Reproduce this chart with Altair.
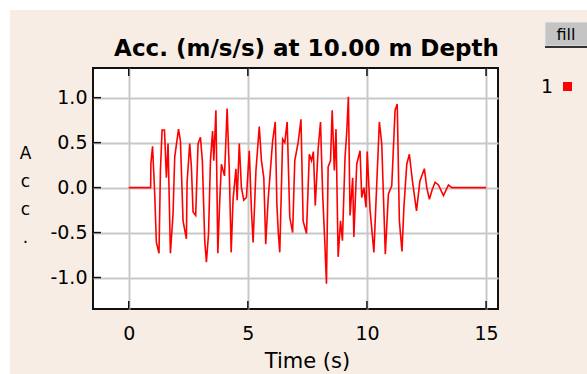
import altair as alt
import pandas as pd

# ---- data ----
time_s = [0.0, 0.92, 0.93, 1.00, 1.09, 1.16, 1.27, 1.33, 1.40, 1.50, 1.58, 1.65, 1.75, 1.86, 1.93,
          2.09, 2.17, 2.28, 2.42, 2.45, 2.56, 2.63, 2.70, 2.81, 2.91, 3.01, 3.09, 3.19, 3.26, 3.35,
          3.43, 3.52, 3.57, 3.66, 3.74, 3.82, 3.89, 4.02, 4.13, 4.22, 4.30, 4.38, 4.50, 4.55, 4.64,
          4.73, 4.83, 4.94, 5.06, 5.15, 5.22, 5.34, 5.48, 5.57, 5.67, 5.75, 5.85, 6.04, 6.15, 6.22,
          6.28, 6.34, 6.46, 6.55, 6.65, 6.76, 6.88, 6.97, 7.11, 7.23, 7.32, 7.46, 7.58, 7.67, 7.75,
          7.83, 7.95, 8.05, 8.14, 8.23, 8.30, 8.37, 8.47, 8.54, 8.63, 8.70, 8.79, 8.89, 8.97, 9.08,
          9.15, 9.22, 9.29, 9.40, 9.45, 9.57, 9.71, 9.78, 9.87, 9.96, 10.01, 10.13, 10.29, 10.41,
          10.52, 10.62, 10.77, 10.90, 11.04, 11.18, 11.27, 11.36, 11.47, 11.55, 11.67, 11.78, 11.91,
          12.08, 12.22, 12.41, 12.51, 12.62, 12.73, 12.86, 13.00, 13.21, 13.42, 13.56, 15.0]
acc = [0.0, 0.0, 0.27, 0.46, -0.07, -0.61, -0.73, 0.19, 0.64, 0.64, 0.11, 0.49, -0.73, -0.29, 0.34,
       0.65, 0.52, -0.37, -0.57, 0.06, 0.49, 0.23, -0.27, -0.31, 0.49, 0.56, 0.30, -0.59, -0.83, -0.51,
       0.30, 0.63, 0.30, 0.86, -0.73, -0.14, 0.26, 0.13, 0.88, 0.19, -0.72, -0.13, 0.21, -0.14, 0.49,
       0.0, -0.14, -0.11, 0.41, -0.25, -0.61, 0.19, 0.68, 0.30, 0.11, -0.63, -0.14, 0.52, 0.73, -0.20,
       -0.51, -0.72, 0.54, 0.50, 0.73, -0.33, -0.50, 0.30, 0.50, 0.76, -0.37, -0.51, 0.37, 0.30, 0.40,
       -0.20, 0.43, 0.73, -0.07, -0.61, -1.07, 0.23, 0.30, 0.86, 0.19, 0.65, -0.77, -0.37, -0.59, 0.34,
       0.61, 1.01, -0.31, 0.11, -0.55, 0.26, 0.41, -0.11, 0.0, -0.22, 0.40, -0.25, -0.72, 0.04,
       0.73, 0.49, -0.74, -0.07, 0.02, 0.86, 0.93, -0.37, -0.71, -0.22, 0.26, 0.37, 0.07,
       -0.26, 0.07, 0.21, 0.0, -0.13, -0.03, 0.06, 0.03, -0.09, 0.03, 0.0, 0.0]
series = ["1"] * len(time_s)
x_ticks = [0, 5, 10, 15]
y_ticks = [-1.0, -0.5, 0.0, 0.5, 1.0]
title_text = "Acc. (m/s/s) at 10.00 m Depth"
x_title = "Time (s)"
y_title = ["A", "c", "c", "."]
button_text = ["fill"]

BG = "#f8ede4"
FONT = "DejaVu Sans"
W, H = 405, 241
PL, PT, PR, PB = 93, 68, 89, 65

df = pd.DataFrame({"t": time_s, "a": acc, "s": series})
xt = pd.DataFrame({"t": x_ticks})
yt = pd.DataFrame({"a": y_ticks})
one = pd.DataFrame({"k": [0]})
btn = pd.DataFrame({"label": button_text})

xscale = alt.Scale(domain=[-1.5, 15.5], nice=False, zero=False)
yscale = alt.Scale(domain=[-1.35, 1.33], nice=False, zero=False)

x_axis = alt.Axis(values=x_ticks, title=x_title, grid=True, domain=False, ticks=False,
                  labelFont=FONT, labelFontSize=19, labelColor="black", labelPadding=15,
                  titleFont=FONT, titleFontSize=21, titleFontWeight="normal", titleColor="black",
                  titleX=214, titleY=41, titleBaseline="top", titleAlign="center",
                  gridColor="#c8c8c8", gridWidth=2)
y_axis = alt.Axis(values=y_ticks, format=".1f", labelExpr="replace(datum.label, '\u2212', '-')",
                  title=y_title, grid=True, domain=False, ticks=False,
                  labelFont=FONT, labelFontSize=19, labelColor="black", labelPadding=6,
                  titleFont=FONT, titleFontSize=17, titleFontWeight="normal", titleColor="black",
                  titleAngle=0, titleX=-68, titleY=77, titleBaseline="top", titleAlign="center",
                  titleLineHeight=28, gridColor="#c8c8c8", gridWidth=2)

# decorative white margins of the screenshot and the "fill" button
strip_left = alt.Chart(one).mark_rect(color="white", clip=False).encode(
    x=alt.value(-PL), x2=alt.value(-PL + 10), y=alt.value(-PT), y2=alt.value(H + PB))
strip_top = alt.Chart(one).mark_rect(color="white", clip=False).encode(
    x=alt.value(-PL), x2=alt.value(W + PR), y=alt.value(-PT), y2=alt.value(-PT + 10))
button = alt.Chart(one).mark_rect(color="#c4c4c4", stroke="#e8e8e8", strokeWidth=1, clip=False).encode(
    x=alt.value(452), x2=alt.value(500), y=alt.value(-46), y2=alt.value(-22))
button_edge = alt.Chart(one).mark_rule(color="#333333", strokeWidth=2, clip=False).encode(
    x=alt.value(452), x2=alt.value(500), y=alt.value(-21))
button_label = alt.Chart(btn).mark_text(font=FONT, fontSize=16, color="black", clip=False).encode(
    text="label:N", x=alt.value(473), y=alt.value(-33))

line = alt.Chart(df).mark_line(strokeWidth=1.6).encode(
    x=alt.X("t:Q", scale=xscale, axis=x_axis),
    y=alt.Y("a:Q", scale=yscale, axis=y_axis),
    color=alt.Color("s:N", scale=alt.Scale(domain=["1"], range=["#ff0000"]),
                    legend=alt.Legend(orient="none", legendX=465, legendY=9, title=None, padding=0,
                                      symbolType="square", symbolSize=81, symbolFillColor="#ff0000",
                                      symbolStrokeWidth=0, labelFont=FONT, labelFontSize=19,
                                      labelColor="black", labelAlign="right",
                                      labelOffset=alt.ExprRef("-24"))),
)

tick_style = dict(color="#111111", strokeWidth=1.5)
top_ticks = alt.Chart(xt).mark_rule(**tick_style).encode(
    x=alt.X("t:Q", scale=xscale, axis=x_axis), y=alt.value(0), y2=alt.value(8))
bot_ticks = alt.Chart(xt).mark_rule(**tick_style).encode(
    x=alt.X("t:Q", scale=xscale, axis=x_axis), y=alt.value(H - 8), y2=alt.value(H))
left_ticks = alt.Chart(yt).mark_rule(**tick_style).encode(
    y=alt.Y("a:Q", scale=yscale, axis=y_axis), x=alt.value(0), x2=alt.value(8))

chart = alt.layer(
    line, top_ticks, bot_ticks, left_ticks,
    strip_left, strip_top, button, button_edge, button_label,
).properties(
    width=W, height=H,
    title=alt.TitleParams(title_text, font=FONT, fontSize=23, fontWeight="bold", color="black",
                          anchor="middle", frame="group", baseline="alphabetic", offset=0, dx=11, dy=79),
    autosize=alt.AutoSizeParams(type="none"),
    padding={"left": PL, "top": PT, "right": PR, "bottom": PB},
    background=BG,
).configure_view(
    fill="white", stroke="#111111", strokeWidth=2
)

chart.save("out.html", embed_options={"renderer": "svg", "actions": False})
